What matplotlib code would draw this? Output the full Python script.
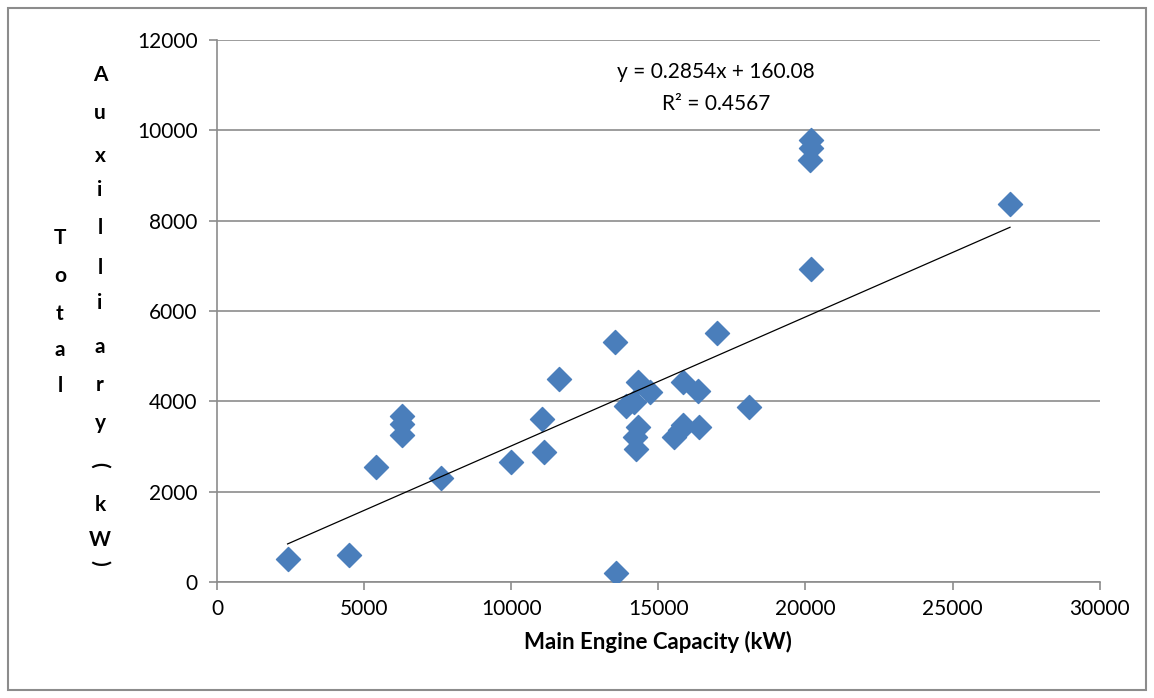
import matplotlib.pyplot as plt
from matplotlib.patches import Rectangle
import numpy as np

plt.rcParams['font.family'] = ['Lato', 'DejaVu Sans']

# main engine capacity (kW) vs total auxiliary capacity (kW)
engine_kw = [2400, 4500, 5400, 6300, 6300, 6300, 7600, 10000, 11050, 11100,
             11620, 13520, 13550, 13900, 14170, 14300, 14710, 14300, 14200,
             14230, 15530, 15730, 15830, 15830, 16340, 16380, 16990, 18080,
             20180, 20180, 20150, 20180, 26950]
aux_kw = [510, 590, 2540, 3670, 3500, 3250, 2310, 2650, 3610, 2880,
          4490, 5310, 200, 3900, 3980, 4420, 4200, 3430, 3210,
          2940, 3210, 3360, 3470, 4420, 4220, 3430, 5510, 3870,
          9780, 9610, 9340, 6930, 8370]

# linear trendline as reported on the chart
slope = 0.2854
intercept = 160.08
r2 = 0.4567

ylabel_col1 = "Total"
ylabel_col2 = "Auxilliary(kW)"

fig = plt.figure(figsize=(11.54, 6.98), dpi=100)
ax = fig.add_axes([0.188, 0.166, 0.765, 0.777])

ax.scatter(engine_kw, aux_kw, marker='D', s=150, color='#4A7EBB',
           edgecolors='#4A7EBB', zorder=3)

xs = np.array([min(engine_kw), max(engine_kw)])
ax.plot(xs, slope * xs + intercept, color='black', lw=0.9, zorder=4)

ax.set_xlim(0, 30000)
ax.set_ylim(0, 12000)
ax.set_xticks(range(0, 30001, 5000))
ax.set_yticks(range(0, 12001, 2000))
ax.yaxis.grid(True, color='#8C8C8C', lw=1.2)
ax.set_axisbelow(True)
for s in ['top', 'right']:
    ax.spines[s].set_visible(False)
for s in ['left', 'bottom']:
    ax.spines[s].set_color('#8C8C8C')
    ax.spines[s].set_linewidth(1.2)
ax.tick_params(colors='#8C8C8C', labelcolor='black', labelsize=15,
               length=6, width=1.2)
ax.tick_params(axis='y', pad=8)
ax.tick_params(axis='x', pad=6)

ax.set_xlabel('Main Engine Capacity (kW)', fontsize=16, fontweight='bold',
              labelpad=9)

ax.text(0.565, 0.94, f'y = {slope}x + {intercept}', transform=ax.transAxes,
        ha='center', va='center', fontsize=15)
ax.text(0.565, 0.881, f'R² = {r2}', transform=ax.transAxes,
        ha='center', va='center', fontsize=15)

# stacked y label, one letter per row as in the original
col1_y = [238, 276, 314, 350, 386]
col2_y = [75, 113, 156, 190, 228, 268, 303, 347, 385, 423, 465, 505, 540, 563]
for ch, yy in zip(ylabel_col1, col1_y):
    fig.text(60 / 1154, 1 - yy / 698, ch, ha='center', va='center',
             fontsize=15, fontweight='bold')
for ch, yy in zip(ylabel_col2, col2_y):
    rot = -90 if ch in '()' else 0
    fig.text(100 / 1154, 1 - yy / 698, ch, ha='center', va='center',
             fontsize=15, fontweight='bold', rotation=rot)

fig.add_artist(Rectangle((8 / 1154, 8 / 698), 1138 / 1154, 682 / 698,
                         transform=fig.transFigure, fill=False,
                         edgecolor='#8C8C8C', lw=1.5))

fig.savefig('out.png', dpi=100)
